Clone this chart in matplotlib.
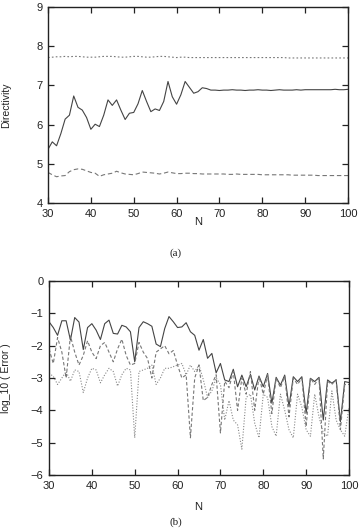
import numpy as np
import matplotlib
matplotlib.use("Agg")
import matplotlib.pyplot as plt

N = list(range(30, 101))

# (a) Directivity
dir_solid = [5.37, 5.56, 5.46, 5.77, 6.14, 6.24, 6.73, 6.44, 6.37, 6.18,
             5.88, 6.01, 5.95, 6.24, 6.63, 6.49, 6.63, 6.37, 6.13, 6.29,
             6.31, 6.53, 6.87, 6.59, 6.33, 6.40, 6.36, 6.59, 7.10, 6.71,
             6.52, 6.76, 7.10, 6.95, 6.80, 6.84, 6.94, 6.92, 6.88, 6.88,
             6.87, 6.88, 6.88, 6.89, 6.88, 6.88, 6.87, 6.88, 6.88, 6.89,
             6.88, 6.88, 6.87, 6.88, 6.89, 6.88, 6.88, 6.88, 6.89, 6.88,
             6.89, 6.89, 6.89, 6.89, 6.89, 6.89, 6.89, 6.90, 6.89, 6.89, 6.90]
dir_dotted = [7.71, 7.72, 7.73, 7.73, 7.74, 7.73, 7.74, 7.74, 7.73, 7.72,
              7.72, 7.72, 7.73, 7.74, 7.74, 7.74, 7.73, 7.72, 7.72, 7.73,
              7.74, 7.74, 7.73, 7.72, 7.72, 7.73, 7.74, 7.74, 7.73, 7.72,
              7.71, 7.72, 7.72, 7.71, 7.71, 7.71, 7.71, 7.71, 7.71, 7.71,
              7.71, 7.71, 7.71, 7.71, 7.71, 7.71, 7.71, 7.71, 7.71, 7.71,
              7.71, 7.71, 7.71, 7.71, 7.71, 7.71, 7.70, 7.70, 7.70, 7.70,
              7.70, 7.70, 7.70, 7.70, 7.70, 7.70, 7.70, 7.70, 7.70, 7.70, 7.70]
dir_dashed = [4.78, 4.72, 4.67, 4.69, 4.70, 4.80, 4.85, 4.87, 4.86, 4.82,
              4.78, 4.76, 4.68, 4.72, 4.74, 4.76, 4.81, 4.77, 4.74, 4.73,
              4.72, 4.75, 4.79, 4.78, 4.77, 4.76, 4.74, 4.76, 4.79, 4.77,
              4.75, 4.75, 4.76, 4.76, 4.75, 4.75, 4.74, 4.74, 4.74, 4.74,
              4.74, 4.74, 4.73, 4.73, 4.74, 4.73, 4.73, 4.73, 4.73, 4.73,
              4.72, 4.72, 4.72, 4.72, 4.72, 4.72, 4.72, 4.71, 4.71, 4.71,
              4.71, 4.71, 4.71, 4.70, 4.70, 4.70, 4.70, 4.70, 4.70, 4.70, 4.70]

# (b) log10(Error)
err_solid = [-1.26, -1.44, -1.68, -1.23, -1.23, -1.83, -1.13, -1.27, -2.12, -1.44,
             -1.32, -1.52, -1.81, -1.32, -1.21, -1.62, -1.64, -1.37, -1.42, -1.57,
             -2.50, -1.44, -1.26, -1.32, -1.40, -1.95, -2.03, -1.47, -1.10, -1.26,
             -1.44, -1.42, -1.29, -1.57, -1.68, -2.14, -1.81, -2.39, -2.24, -2.84,
             -2.55, -3.06, -3.11, -2.73, -3.27, -2.91, -3.27, -2.89, -3.37, -2.94,
             -3.27, -2.86, -3.78, -2.98, -3.22, -2.91, -3.88, -2.96, -3.11, -2.96,
             -4.09, -3.01, -3.11, -2.98, -4.30, -3.06, -3.16, -3.06, -4.35, -3.11, -3.14]
err_dashed = [-2.10, -2.55, -1.75, -2.20, -3.00, -1.70, -2.20, -2.60, -2.30, -1.85,
              -2.20, -2.40, -2.00, -1.90, -2.20, -2.50, -2.10, -1.80, -2.30, -2.60,
              -2.55, -1.90, -2.20, -2.40, -3.00, -2.20, -2.10, -2.00, -2.25, -2.15,
              -2.60, -3.00, -2.90, -4.85, -3.00, -2.60, -3.70, -3.60, -3.20, -2.90,
              -4.70, -3.10, -3.30, -2.80, -4.00, -3.00, -3.50, -2.80, -4.00, -2.95,
              -3.50, -2.90, -4.10, -3.00, -3.30, -2.95, -4.20, -3.00, -3.20, -3.00,
              -4.50, -3.00, -3.20, -3.00, -5.50, -3.10, -3.20, -3.05, -4.60, -3.20, -3.20]
err_dotted = [-2.85, -2.95, -3.20, -3.00, -2.80, -3.10, -2.75, -2.80, -3.45, -3.00,
              -2.70, -2.75, -3.15, -2.90, -2.70, -2.80, -3.25, -2.90, -2.70, -2.75,
              -4.85, -2.80, -2.75, -2.70, -2.60, -3.20, -3.00, -2.70, -2.70, -2.65,
              -2.60, -2.55, -2.90, -2.60, -2.80, -2.60, -3.05, -3.60, -3.40, -3.00,
              -3.20, -4.30, -3.70, -4.30, -4.45, -5.20, -3.60, -3.50, -4.40, -4.85,
              -3.50, -3.60, -4.50, -4.80, -3.50, -4.00, -4.60, -4.85, -3.50, -3.90,
              -4.60, -4.80, -3.50, -4.20, -4.70, -4.80, -3.40, -4.30, -4.60, -4.80, -3.90]

xticks = [30, 40, 50, 60, 70, 80, 90, 100]
yticks_a = [4, 5, 6, 7, 8, 9]
yticks_b = [0, -1, -2, -3, -4, -5, -6]

W, H = 363, 532
fig = plt.figure(figsize=(W / 100, H / 100), dpi=100)
fig.patch.set_facecolor("white")

sans = ["Liberation Sans", "DejaVu Sans"]
serif = ["Liberation Serif", "DejaVu Serif"]

def style(ax, yticks, ylim):
    ax.set_xlim(30, 100)
    ax.set_ylim(*ylim)
    ax.set_xticks(xticks)
    ax.set_yticks(yticks)
    ax.tick_params(direction="in", top=True, right=True, length=4, width=0.9,
                   labelsize=8, pad=4, colors="#222222")
    for lab in ax.get_xticklabels() + ax.get_yticklabels():
        lab.set_family(sans)
    for s in ax.spines.values():
        s.set_linewidth(1.0)
        s.set_color("#222222")

ax1 = fig.add_axes([48 / W, 1 - 203 / H, 300 / W, 196 / H])
ax1.plot(N, dir_solid, color="#444444", lw=0.8, ls="-")
ax1.plot(N, dir_dotted, color="#777777", lw=0.8, ls=(0, (1.5, 2)))
ax1.plot(N, dir_dashed, color="#777777", lw=0.8, ls=(0, (4, 2.5)))
style(ax1, yticks_a, (4, 9))

ax2 = fig.add_axes([49 / W, 1 - 475 / H, 300 / W, 194 / H])
ax2.plot(N, err_solid, color="#444444", lw=0.8, ls="-")
ax2.plot(N, err_dashed, color="#777777", lw=0.8, ls=(0, (3, 2)))
ax2.plot(N, err_dotted, color="#888888", lw=0.8, ls=(0, (1, 1.5)))
style(ax2, yticks_b, (-6, 0))

fig.text(198 / W, 1 - 222 / H, "N", ha="center", va="center", fontsize=8,
         family=sans, color="#222222")
fig.text(176 / W, 1 - 253 / H, "(a)", ha="center", va="center", fontsize=8,
         family=serif, color="#222222")
fig.text(198 / W, 1 - 507 / H, "N", ha="center", va="center", fontsize=8,
         family=sans, color="#222222")
fig.text(176 / W, 1 - 522 / H, "(b)", ha="center", va="center", fontsize=8,
         family=serif, color="#222222")
fig.text(6 / W, 1 - 105 / H, "Directivity", ha="center", va="center",
         rotation=90, fontsize=7.5, family=sans, color="#222222")
fig.text(6 / W, 1 - 378 / H, "log_10 ( Error )", ha="center", va="center",
         rotation=90, fontsize=7.5, family=sans, color="#222222")

fig.savefig("out.png", dpi=100, facecolor="white")
